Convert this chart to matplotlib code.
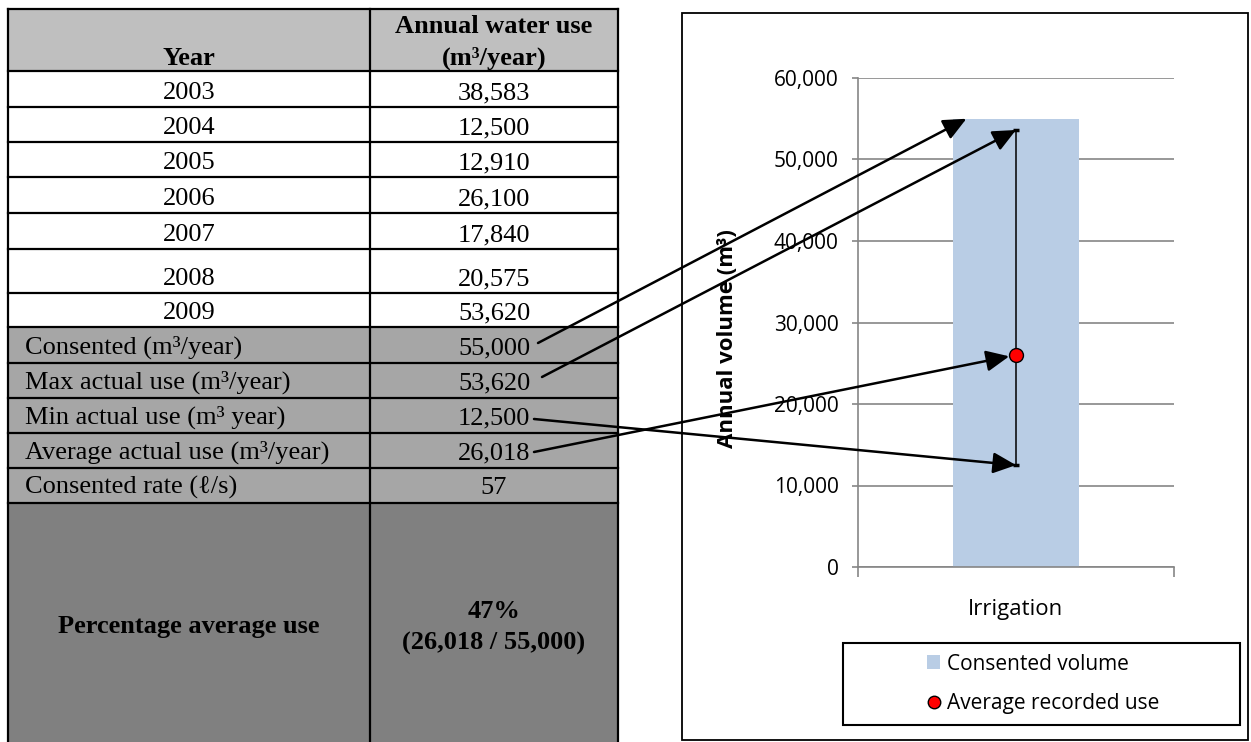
import matplotlib
matplotlib.use("Agg")
import matplotlib.pyplot as plt
from matplotlib.patches import Rectangle
from matplotlib.lines import Line2D

# ---------------- data ----------------
years = ["2003", "2004", "2005", "2006", "2007", "2008", "2009"]
annual_use = [38583, 12500, 12910, 26100, 17840, 20575, 53620]
summary_labels = ["Consented (m³/year)", "Max actual use (m³/year)",
                  "Min actual use (m³ year)", "Average actual use (m³/year)",
                  "Consented rate (ℓ/s)"]
summary_values = ["55,000", "53,620", "12,500", "26,018", "57"]
pct_label = "Percentage average use"
pct_value = ["47%", "(26,018 / 55,000)"]
header = ["Year", "Annual water use", "(m³/year)"]

category = ["Irrigation"]
consented = 55000
max_use = 53620
min_use = 12500
avg_use = 26018
y_ticks = [0, 10000, 20000, 30000, 40000, 50000, 60000]
legend_labels = ["Consented volume", "Average recorded use"]
y_label = "Annual volume (m³)"

# ---------------- figure ----------------
W, H = 1251, 742
fig = plt.figure(figsize=(W / 100, H / 100), dpi=100)
serif = ["Liberation Serif", "DejaVu Serif"]
sans = ["Open Sans", "DejaVu Sans"]

# table axes in pixel coordinates (y downwards)
axt = fig.add_axes([0, 0, 1, 1], zorder=0)
axt.set_xlim(0, W)
axt.set_ylim(H, 0)
axt.axis("off")

x0, xm, x1 = 8, 370, 618
row_edges = [9, 71, 107, 142, 177, 213, 249, 293, 327, 363, 398, 433, 468, 503, 745]
fills = (["#bfbfbf"] + ["white"] * len(years) + ["#a6a6a6"] * len(summary_labels)
         + ["#808080"])
for i, c in enumerate(fills):
    axt.add_patch(Rectangle((x0, row_edges[i]), x1 - x0, row_edges[i + 1] - row_edges[i],
                            facecolor=c, edgecolor="none", zorder=1))
lw_t = 1.6
for yy in row_edges[:-1]:
    axt.plot([x0, x1], [yy, yy], color="black", lw=lw_t, zorder=3, solid_capstyle="projecting")
for xx in (x0, xm, x1):
    axt.plot([xx, xx], [row_edges[0], H + 5], color="black", lw=lw_t, zorder=3)

fs_t = 19
c1, c2 = (x0 + xm) / 2, (xm + x1) / 2
# header
axt.text(c1, 65, header[0], ha="center", va="baseline", fontsize=fs_t, fontweight="bold", family=serif, zorder=4)
axt.text(c2, 33, header[1], ha="center", va="baseline", fontsize=fs_t, fontweight="bold", family=serif, zorder=4)
axt.text(c2, 65, header[2], ha="center", va="baseline", fontsize=fs_t, fontweight="bold", family=serif, zorder=4)
# year rows
for i, (yr, v) in enumerate(zip(years, annual_use)):
    base = row_edges[i + 2] - 8
    axt.text(c1, base, yr, ha="center", va="baseline", fontsize=fs_t, family=serif, zorder=4)
    axt.text(c2, base, f"{v:,}", ha="center", va="baseline", fontsize=fs_t, family=serif, zorder=4)
# summary rows
for j, (lab, v) in enumerate(zip(summary_labels, summary_values)):
    base = row_edges[len(years) + j + 2] - 9
    axt.text(25, base, lab, ha="left", va="baseline", fontsize=fs_t, family=serif, zorder=4)
    axt.text(c2, base, v, ha="center", va="baseline", fontsize=fs_t, family=serif, zorder=4)
# percentage row
axt.text(c1, 627, pct_label, ha="center", va="center", fontsize=fs_t, fontweight="bold", family=serif, zorder=4)
axt.text(c2, 612, pct_value[0], ha="center", va="center", fontsize=fs_t, fontweight="bold", family=serif, zorder=4)
axt.text(c2, 643, pct_value[1], ha="center", va="center", fontsize=fs_t, fontweight="bold", family=serif, zorder=4)

# chart frame
axt.add_patch(Rectangle((682, 13), 1248 - 682, 740 - 13, facecolor="white",
                        edgecolor="black", lw=1.3, zorder=0.5))
# legend frame
axt.add_patch(Rectangle((843, 643), 1240 - 843, 725 - 643, facecolor="white",
                        edgecolor="black", lw=1.5, zorder=2))

# ---------------- chart axes ----------------
ax_l, ax_r, ax_t, ax_b = 858, 1174, 78, 567
ax = fig.add_axes([ax_l / W, (H - ax_b) / H, (ax_r - ax_l) / W, (ax_b - ax_t) / H], zorder=2)
ax.patch.set_alpha(0)
ax.set_xlim(-0.5, 0.5)
ax.set_ylim(0, 60000)
grid_c = "#868686"
ax.set_yticks(y_ticks)
ax.set_yticklabels([f"{t:,}" for t in y_ticks], family=sans, fontsize=15)
ax.yaxis.grid(True, color=grid_c, lw=1.2)
ax.set_axisbelow(True)
for s in ("top", "right"):
    ax.spines[s].set_visible(False)
for s in ("left", "bottom"):
    ax.spines[s].set_color(grid_c)
    ax.spines[s].set_linewidth(1.2)
ax.tick_params(axis="y", length=4, width=1.2, color=grid_c, pad=10)
ax.set_xticks([0])
ax.set_xticklabels(category, family=sans, fontsize=16)
ax.tick_params(axis="x", which="major", length=0, pad=23)
ax.set_xticks([-0.5, 0.5], minor=True)
ax.tick_params(axis="x", which="minor", length=7, width=1.2, color=grid_c)

ax.bar([0], [consented], width=0.4, color="#b9cde5", zorder=2)
ax.errorbar([0], [avg_use], yerr=[[avg_use - min_use], [max_use - avg_use]], fmt="none",
            ecolor="black", elinewidth=1.1, capsize=2.5, capthick=2.5, zorder=3)
ax.plot([0], [avg_use], "o", color="red", mec="black", mew=1, ms=10, zorder=4, clip_on=False)

ax.set_ylabel(y_label, family=sans, fontsize=16, fontweight="bold")
ax.yaxis.set_label_coords((738 - ax_l) / (ax_r - ax_l), (ax_b - 339) / (ax_b - ax_t))

# arrows from table values to chart marks
ap = dict(arrowstyle="-|>,head_length=0.7,head_width=0.32", color="black", lw=1.8,
          mutation_scale=20, shrinkA=0, shrinkB=0)
arrow_specs = [
    ((-0.157, consented), (538, H - 343), 0),
    ((0.0, max_use), (542, H - 377), 0),
    ((0.0, min_use), (534, H - 419), 0),
    ((0.0, avg_use), (534, H - 452), 5),
]
for xy, xyt, shr in arrow_specs:
    p = dict(ap)
    p["shrinkB"] = shr
    ax.annotate("", xy=xy, xycoords="data", xytext=xyt, textcoords="figure pixels",
                arrowprops=p, annotation_clip=False, zorder=5)

# legend
handles = [Rectangle((0, 0), 1, 1, facecolor="#b9cde5", edgecolor="none"),
           Line2D([], [], ls="none", marker="o", color="red", mec="black", mew=1, ms=9)]
leg = fig.legend(handles, legend_labels, loc="center",
                 bbox_to_anchor=(1043 / W, (H - 684) / H), frameon=False,
                 prop={"family": sans, "size": 15}, handlelength=0.65, handleheight=0.65,
                 handletextpad=0.3, labelspacing=0.9, borderaxespad=0)
leg.set_zorder(6)

fig.savefig("out.png", dpi=100)
